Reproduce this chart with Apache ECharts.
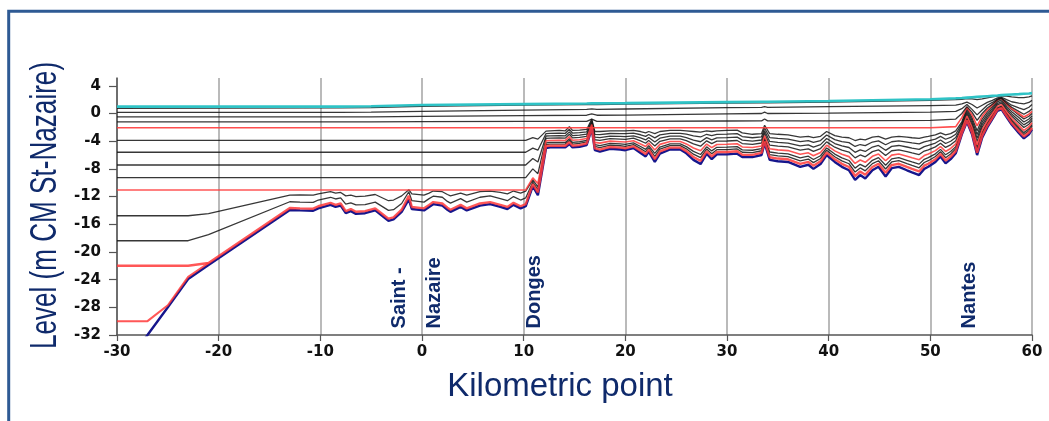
<!DOCTYPE html>
<html>
<head>
<meta charset="utf-8">
<script src="https://cdn.jsdelivr.net/npm/echarts@6/dist/echarts.min.js"></script>
<style>
html,body{margin:0;padding:0;background:#fff;}
#chart{width:1049px;height:421px;}
</style>
</head>
<body>
<div id="chart"></div>
<script>
// Longitudinal profile of the Loire estuary: river bed and low-water lines (m CM St-Nazaire)

// Kilometric points, seaward section (up to Donges) and landward section
const kmWest = [-30, -27, -25, -23, -21, -13, -12, -10.7, -10.2, -9, -8.5, -8, -7.5, -7, -6.5, -5.6, -4.6, -3.3, -2.8, -2, -1.3, -1, 0.2, 0.7, 1.1, 2, 2.5, 2.8, 3.8, 4.4, 5.7, 6.7, 7.7, 8.4, 9, 9.7];
const kmEast = [10.2, 10.9, 11.4, 12.2, 12.6, 13.5, 14.1, 14.5, 14.8, 15.5, 16.2, 16.7, 17.0, 17.5, 18.5, 19.5, 20.0, 20.8, 21.5, 22.0, 22.3, 22.9, 23.4, 24.4, 25.4, 26.0, 26.7, 27.4, 28.0, 28.5, 29.0, 30.0, 31.0, 31.5, 32.5, 33.4, 33.7, 34.2, 35.0, 36.0, 37.2, 38.0, 38.5, 39.2, 39.8, 40.6, 41.3, 42.0, 42.6, 43.1, 43.6, 44.3, 44.9, 45.6, 46.2, 46.9, 47.7, 48.2, 48.9, 49.4, 49.8, 50.5, 51.0, 51.5, 52.0, 52.5, 53.1, 53.6, 54.1, 54.6, 55.1, 55.6, 56.1, 56.6, 57.0, 57.5, 58.0, 58.7, 59.2, 59.7, 60];

// River bed
const bedWest = [-37.9, -32.0, -28.0, -23.9, -21.9, -13.95, -14.0, -14.05, -13.7, -13.2, -13.5, -13.3, -14.4, -14.1, -14.5, -14.4, -14.0, -15.5, -15.3, -14.2, -12.4, -13.8, -14.0, -13.5, -13.1, -13.3, -13.9, -14.2, -13.5, -14.0, -13.3, -13.1, -13.5, -13.8, -13.2, -13.7];
const bedEast = [-13.4, -10.5, -11.8, -5.0,
  -4.9, -4.9, -4.9, -4.4, -4.9, -4.8, -4.55, -2.2, -5.3, -5.5,
  -5.1, -5.2, -5.3, -5.0, -5.7, -6.2, -5.5, -7.0, -5.8, -5.2,
  -5.2, -5.75, -6.7, -7.3, -5.8, -6.6, -5.9, -5.9, -5.8, -6.3,
  -6.3, -6.0, -4.3, -6.7, -6.9, -7.0, -7.7, -7.4, -8.0, -7.3,
  -6.0, -7.0, -7.7, -8.2, -9.6, -8.9, -9.4, -8.2, -7.7, -9.1,
  -7.9, -7.7, -8.2, -8.5, -8.9, -8.0, -7.7, -7.0, -6.2, -7.2,
  -6.6, -5.75, -3.0, -1.2, -3.0, -6.0, -3.5, -2.0, -0.8, 0.4,
  0.6, -0.5, -1.6, -2.8, -3.6, -3.0, -2.3];

// Low water at -22 (red, then hugging the bed)
const red22West = [-22, -22, -22, -22, -21.6, -13.65, -13.7, -13.75, -13.4, -12.9, -13.2, -13.0, -14.1, -13.8, -14.2, -14.1, -13.7, -15.2, -15.0, -13.9, -11.9, -13.5, -13.7, -13.2, -12.8, -13.0, -13.6, -13.9, -13.2, -13.7, -13.0, -12.8, -13.2, -13.5, -12.9, -13.4];
const red22East = [-13.1, -10.2, -11.4, -4.7,
  -4.66, -4.66, -4.66, -4.15, -4.66, -4.56, -4.33, -2.06, -5.03, -5.21,
  -4.84, -4.93, -5.02, -4.75, -5.39, -5.86, -5.21, -6.59, -5.48, -4.93,
  -4.93, -5.43, -6.29, -6.84, -5.47, -6.2, -5.56, -5.56, -5.46, -5.95,
  -5.97, -5.69, -4.04, -6.32, -6.51, -6.61, -7.27, -6.99, -7.55, -6.9,
  -5.66, -6.62, -7.27, -7.73, -9.03, -8.38, -8.84, -7.72, -7.26, -8.56,
  -7.45, -7.26, -7.72, -8.0, -8.37, -7.54, -7.26, -6.61, -5.86, -6.79,
  -6.23, -5.43, -2.82, -1.0, -2.76, -5.65, -3.23, -1.78, -0.62, 0.55,
  0.76, -0.32, -1.38, -2.54, -3.32, -2.74, -2.07];

// Low water at -30 (red), joining the bed on the outer slope
const red30Km = [-30, -27, -25, -23, -21];
const red30 = [-30, -30, -27.7, -23.6, -21.6];

// Low water at -18.4 (black)
const l18West = [-18.38, -18.38, -18.38, -18.38, -17.5, -12.75, -12.8, -12.85, -12.5, -12.1, -12.35, -12.2, -13.1, -12.9, -13.2, -13.15, -12.8, -14.0, -13.9, -13.0, -11.3, -12.6, -12.8, -12.3, -11.95, -12.1, -12.7, -12.95, -12.3, -12.8, -12.1, -11.9, -12.3, -12.6, -12.0, -12.5];
const l18East = [-12.2, -9.9, -11.0, -4.5,
  -4.42, -4.41, -4.42, -3.9, -4.41, -4.32, -4.1, -1.92, -4.76, -4.92,
  -4.58, -4.66, -4.74, -4.49, -5.08, -5.52, -4.92, -6.18, -5.16, -4.65,
  -4.65, -5.1, -5.88, -6.38, -5.14, -5.8, -5.22, -5.21, -5.12, -5.6,
  -5.64, -5.38, -3.78, -5.94, -6.12, -6.22, -6.84, -6.58, -7.1, -6.5,
  -5.32, -6.24, -6.84, -7.26, -8.46, -7.86, -8.28, -7.24, -6.82, -8.02,
  -7.0, -6.82, -7.24, -7.5, -7.84, -7.08, -6.82, -6.22, -5.52, -6.38,
  -5.86, -5.1, -2.64, -0.8, -2.52, -5.3, -2.96, -1.56, -0.44, 0.7,
  0.92, -0.14, -1.16, -2.28, -3.04, -2.48, -1.84];

// Low water at -14.8 (black)
const l15West = [-14.77, -14.77, -14.77, -14.77, -14.45, -11.8, -11.75, -11.8, -11.6, -11.3, -11.5, -11.4, -11.9, -11.8, -12.0, -11.95, -11.7, -12.6, -12.5, -11.9, -11.0, -11.6, -11.8, -11.5, -11.2, -11.3, -11.7, -11.9, -11.5, -11.8, -11.3, -11.2, -11.4, -11.6, -11.2, -11.5];
const l15East = [-11.2, -9.6, -10.6, -4.25,
  -4.18, -4.17, -4.18, -3.65, -4.17, -4.08, -3.88, -1.78, -4.49, -4.63,
  -4.32, -4.39, -4.46, -4.24, -4.77, -5.18, -4.63, -5.77, -4.84, -4.38,
  -4.38, -4.78, -5.47, -5.92, -4.81, -5.4, -4.88, -4.87, -4.78, -5.25,
  -5.31, -5.07, -3.52, -5.56, -5.73, -5.83, -6.41, -6.17, -6.65, -6.1,
  -4.98, -5.86, -6.41, -6.79, -7.89, -7.34, -7.72, -6.76, -6.38, -7.48,
  -6.55, -6.38, -6.76, -7.0, -7.31, -6.62, -6.38, -5.83, -5.18, -5.97,
  -5.49, -4.78, -2.46, -0.6, -2.28, -4.95, -2.69, -1.34, -0.26, 0.85,
  1.08, 0.04, -0.94, -2.02, -2.76, -2.22, -1.61];

// Low waters flat at sea level west of Donges (first value holds from km -30)
const l11 = [-11.05, -9.3, -10.1, -3.95,
  -3.89, -3.87, -3.89, -3.35, -3.87, -3.79, -3.6, -1.61, -4.17, -4.28,
  -3.99, -4.07, -4.12, -3.93, -4.4, -4.77, -4.28, -5.28, -4.46, -4.05,
  -4.05, -4.39, -4.98, -5.37, -4.41, -4.92, -4.47, -4.45, -4.37, -4.83,
  -4.91, -4.7, -3.21, -5.1, -5.26, -5.36, -5.89, -5.68, -6.11, -5.62,
  -4.57, -5.4, -5.89, -6.23, -7.21, -6.72, -7.05, -6.18, -5.85, -6.83,
  -6.01, -5.85, -6.18, -6.4, -6.67, -6.07, -5.85, -5.36, -4.77, -5.48,
  -5.05, -4.39, -2.24, -0.36, -1.99, -4.53, -2.37, -1.08, -0.04, 1.03,
  1.27, 0.26, -0.68, -1.71, -2.43, -1.91, -1.33];
const l9 = [-9.27, -8.0, -8.7, -3.6,
  -3.56, -3.53, -3.56, -3.0, -3.53, -3.46, -3.29, -1.42, -3.79, -3.88,
  -3.64, -3.69, -3.73, -3.57, -3.96, -4.3, -3.88, -4.7, -4.01, -3.66,
  -3.66, -3.93, -4.4, -4.72, -3.95, -4.36, -4.0, -3.97, -3.9, -4.34,
  -4.45, -4.26, -2.84, -4.57, -4.72, -4.82, -5.29, -5.1, -5.48, -5.06,
  -4.1, -4.87, -5.29, -5.57, -6.41, -5.99, -6.26, -5.51, -5.24, -6.08,
  -5.38, -5.24, -5.51, -5.7, -5.93, -5.42, -5.24, -4.82, -4.3, -4.9,
  -4.53, -3.93, -2.0, -0.08, -1.66, -4.04, -1.99, -0.77, 0.21, 1.24,
  1.5, 0.51, -0.37, -1.34, -2.03, -1.54, -1.01];
const l7 = [-7.44, -6.5, -7.0, -3.25,
  -3.22, -3.19, -3.22, -2.65, -3.19, -3.12, -2.98, -1.22, -3.41, -3.47,
  -3.28, -3.31, -3.34, -3.22, -3.53, -3.82, -3.47, -4.13, -3.56, -3.28,
  -3.28, -3.48, -3.83, -4.08, -3.49, -3.8, -3.52, -3.49, -3.42, -3.85,
  -3.99, -3.83, -2.48, -4.04, -4.17, -4.27, -4.69, -4.53, -4.85, -4.5,
  -3.62, -4.34, -4.69, -4.91, -5.61, -5.26, -5.48, -4.84, -4.62, -5.32,
  -4.75, -4.62, -4.84, -5.0, -5.19, -4.78, -4.62, -4.27, -3.82, -4.33,
  -4.01, -3.48, -1.74, 0.2, -1.32, -3.55, -1.61, -0.46, 0.46, 1.45,
  1.72, 0.76, -0.06, -0.98, -1.64, -1.18, -0.69];
const l6 = [-5.6, -5.0, -5.3, -2.9,
  -2.86, -2.82, -2.86, -2.28, -2.82, -2.76, -2.64, -1.01, -3.01, -3.04,
  -2.89, -2.91, -2.92, -2.83, -3.07, -3.31, -3.04, -3.52, -3.08, -2.86,
  -2.86, -2.99, -3.22, -3.39, -3.0, -3.2, -3.01, -2.97, -2.91, -3.33,
  -3.5, -3.37, -2.09, -3.47, -3.59, -3.69, -4.05, -3.92, -4.18, -3.9,
  -3.11, -3.77, -4.05, -4.21, -4.76, -4.48, -4.64, -4.12, -3.96, -4.51,
  -4.08, -3.96, -4.12, -4.25, -4.4, -4.09, -3.96, -3.69, -3.31, -3.72,
  -3.46, -2.99, -1.47, 0.5, -0.96, -3.03, -1.21, -0.13, 0.73, 1.68,
  1.96, 1.03, 0.27, -0.59, -1.22, -0.79, -0.35];
const l4 = [-3.87, -3.5, -3.7, -2.55,
  -2.5, -2.45, -2.5, -1.9, -2.45, -2.4, -2.3, -0.8, -2.6, -2.6,
  -2.5, -2.5, -2.5, -2.45, -2.6, -2.8, -2.6, -2.9, -2.6, -2.45,
  -2.45, -2.5, -2.6, -2.7, -2.5, -2.6, -2.5, -2.45, -2.4, -2.8,
  -3.0, -2.9, -1.7, -2.9, -3.0, -3.1, -3.4, -3.3, -3.5, -3.3,
  -2.6, -3.2, -3.4, -3.5, -3.9, -3.7, -3.8, -3.4, -3.3, -3.7,
  -3.4, -3.3, -3.4, -3.5, -3.6, -3.4, -3.3, -3.1, -2.8, -3.1,
  -2.9, -2.5, -1.2, 0.8, -0.6, -2.5, -0.8, 0.2, 1.0, 1.9,
  2.2, 1.3, 0.6, -0.2, -0.8, -0.4, 0.0];

// Upper water lines along the whole estuary
const kmUpper = [-30, -8, -5, 0, 10, 16.2, 16.7, 17.2, 20, 30, 33.4, 33.7, 34.0, 40, 50, 52.5, 53.1, 53.6, 54.1, 54.6, 55.1, 55.6, 56.1, 56.6, 57.0, 57.5, 58.0, 58.7, 59.2, 59.7, 60];
const highWater = [1.0, 1.0, 1.05, 1.22, 1.35, 1.45, 1.46, 1.47, 1.5, 1.65, 1.7, 1.7, 1.7, 1.8, 2.05, 2.2, 2.25, 2.3, 2.35, 2.4, 2.45, 2.5, 2.55, 2.6, 2.65, 2.7, 2.75, 2.8, 2.85, 2.9, 2.95];
const up1 = [0.75, 0.8, 0.85, 1.05, 1.2, 1.3, 1.32, 1.3, 1.35, 1.5, 1.55, 1.57, 1.55, 1.65, 1.9, 2.0, 2.05, 2.15, 2.1, 2.0, 2.1, 2.25, 2.4, 2.5, 2.55, 2.5, 2.4, 2.3, 2.3, 2.4, 2.55];
const up2 = [0.17, 0.17, 0.2, 0.3, 0.5, 0.6, 0.68, 0.6, 0.65, 0.85, 0.9, 1.0, 0.9, 1.0, 1.15, 1.2, 1.4, 1.65, 1.3, 0.8, 1.2, 1.6, 1.9, 2.25, 2.35, 2.0, 1.7, 1.5, 1.4, 1.6, 1.9];
const up3 = [-0.5, -0.5, -0.48, -0.4, -0.3, -0.25, -0.05, -0.25, -0.22, -0.05, 0.0, 0.2, 0.0, 0.05, 0.2, 0.3, 0.7, 1.3, 0.6, -0.2, 0.5, 1.2, 1.6, 2.1, 2.25, 1.7, 1.2, 0.8, 0.55, 0.9, 1.3];
const up4 = [-1.2, -1.2, -1.2, -1.18, -1.15, -1.14, -0.8, -1.14, -1.13, -1.08, -1.07, -0.8, -1.07, -1.05, -1.0, -0.8, 0.0, 1.0, 0.2, -1.0, 0.0, 0.8, 1.35, 2.0, 2.2, 1.5, 0.9, 0.3, -0.1, 0.3, 0.7];
const red2 = [-2.05, -2.05, -2.05, -2.05, -2.05, -2.05, -2.05, -2.05, -2.05, -2.05, -2.05, -2.05, -2.05, -2.05, -2.05, -1.9, -0.6, 0.9, -0.2, -1.8, -0.4, 0.5, 1.2, 2.0, 2.2, 1.4, 0.7, 0.0, -0.5, -0.1, 0.3];

// Axis ticks
const yTicks = [-32, -28, -24, -20, -16, -12, -8, -4, 0, 4];
const xTicks = [-30, -20, -10, 0, 10, 20, 30, 40, 50, 60];

// Place names along the river
const placeNames = ['Saint -', 'Nazaire', 'Donges', 'Nantes'];
const placeKm = [-2.2, 1.2, 11.1, 53.9];
const placeLevel = -31.05;

const pairs = (xs, ys) => xs.map((x, i) => [x, ys[i]]);
const kmAll = kmWest.concat(kmEast);
const withSea = (ys) => [[-30, ys[0]]].concat(pairs(kmEast, ys));

const BLACK = 'rgba(20,20,20,0.85)';
const RED = '#ff3a3a';
const NAVY = '#0f2a6b';

function line(name, data, color, width, opacity) {
  return {
    name, type: 'line', data, symbol: 'none', showSymbol: false,
    clip: true, silent: true, animation: false,
    lineStyle: { color, width, opacity: opacity == null ? 1 : opacity },
  };
}

const series = [
  line('-3.9', withSea(l4), BLACK, 1.3),
  line('-5.6', withSea(l6), BLACK, 1.3),
  line('-7.4', withSea(l7), BLACK, 1.3),
  line('-9.3', withSea(l9), BLACK, 1.3),
  line('-14.8', pairs(kmAll, l15West.concat(l15East)), BLACK, 1.3),
  line('-18.4', pairs(kmAll, l18West.concat(l18East)), BLACK, 1.3),
  line('-11.0', withSea(l11), RED, 1.6, 0.85),
  line('bed', pairs(kmAll, bedWest.concat(bedEast)), '#16168c', 2.4),
  line('-22', pairs(kmAll, red22West.concat(red22East)), RED, 2.4, 0.85),
  line('-30', pairs(red30Km, red30), RED, 2, 0.85),
  line('-2', pairs(kmUpper, red2), RED, 1.6, 0.9),
  line('up4', pairs(kmUpper, up4), BLACK, 1.3),
  line('up3', pairs(kmUpper, up3), BLACK, 1.3),
  line('up2', pairs(kmUpper, up2), BLACK, 1.3),
  line('up1', pairs(kmUpper, up1), BLACK, 1.3),
  line('high', pairs(kmUpper, highWater), '#2fc3c6', 2.6),
];

const chart = echarts.init(document.getElementById('chart'), null, { renderer: 'canvas' });

const tickFont = { fontFamily: 'DejaVu Sans', fontWeight: 'bold', fontSize: 15, color: '#111' };

chart.setOption({
  animation: false,
  backgroundColor: '#fff',
  grid: { left: 117, right: 17, top: 78, bottom: 86, containLabel: false },
  xAxis: {
    type: 'value', min: -30, max: 60, interval: 5,
    axisLine: { show: true, onZero: false, lineStyle: { color: '#555', width: 1.5 } },
    axisTick: { show: true, customValues: xTicks, length: 6, lineStyle: { color: '#555', width: 1.2 } },
    axisLabel: Object.assign({ customValues: xTicks, margin: 10 }, tickFont),
    splitLine: { show: true, lineStyle: { color: '#a3a3a3', width: 1.5 } },
  },
  yAxis: {
    type: 'value', min: -32, max: 5.13, interval: 4,
    axisLine: { show: true, onZero: false, lineStyle: { color: '#555', width: 1.5 } },
    axisTick: { show: true, customValues: yTicks, length: 8, lineStyle: { color: '#555', width: 1.2 } },
    axisLabel: Object.assign({ customValues: yTicks, margin: 16 }, tickFont),
    splitLine: { show: false },
  },
  series,
});

// Frame, axis titles and place names
const graphics = [
  {
    type: 'rect', silent: true, z: 100,
    shape: { x: 8.7, y: 11.3, width: 1200, height: 600 },
    style: { fill: 'none', stroke: '#2e5a94', lineWidth: 3 },
  },
  {
    type: 'text', silent: true, z: 100, x: 560, y: 387,
    style: { text: 'Kilometric point', fontFamily: 'Liberation Sans, Arial, sans-serif', fontSize: 33,
      fill: NAVY, textAlign: 'center', textVerticalAlign: 'middle' },
  },
  {
    type: 'text', silent: true, z: 100, x: 46, y: 205.5, rotation: Math.PI / 2,
    scaleX: 0.87, scaleY: 1.25,
    style: { text: 'Level (m CM St-Nazaire)', fontFamily: 'Liberation Sans, Arial, sans-serif', fontSize: 30,
      fill: NAVY, textAlign: 'center', textVerticalAlign: 'middle' },
  },
];
placeNames.forEach((name, i) => {
  const p = chart.convertToPixel({ xAxisIndex: 0, yAxisIndex: 0 }, [placeKm[i], placeLevel]);
  graphics.push({
    type: 'text', silent: true, z: 100, x: p[0], y: p[1], rotation: Math.PI / 2,
    style: { text: name, fontFamily: 'Liberation Sans, Arial, sans-serif', fontWeight: 'bold', fontSize: 20,
      fill: NAVY, textAlign: 'left', textVerticalAlign: 'middle' },
  });
});
chart.setOption({ graphic: graphics });
</script>
</body>
</html>
